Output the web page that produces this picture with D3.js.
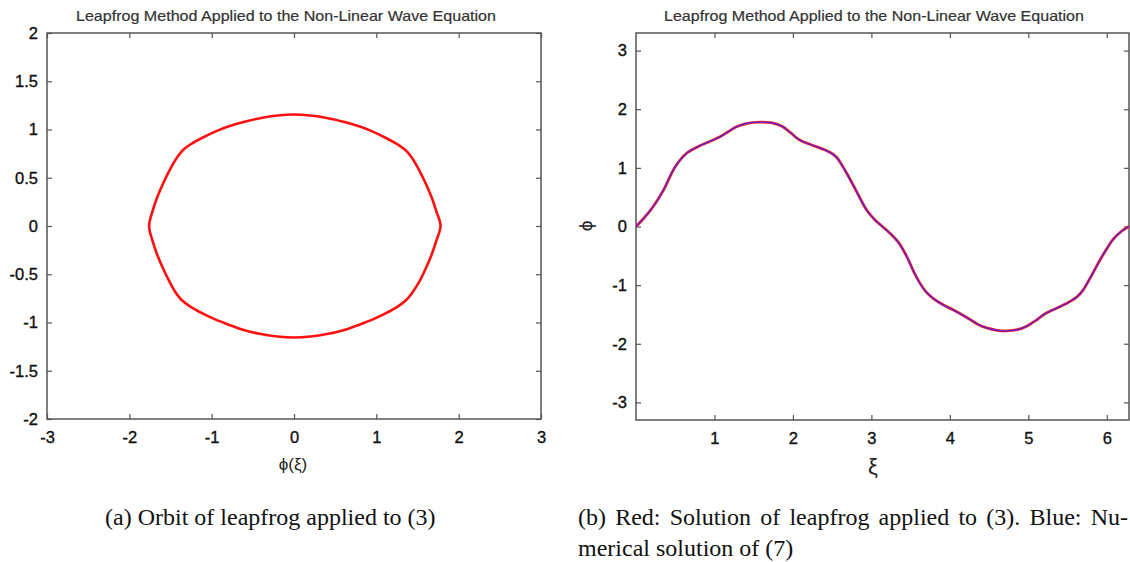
<!DOCTYPE html>
<html>
<head>
<meta charset="utf-8">
<script src="https://cdn.jsdelivr.net/npm/d3@7"></script>
<style>
  html, body { margin: 0; padding: 0; background: #fff; }
  svg { display: block; }
</style>
</head>
<body>
<svg id="chart" width="1130" height="562"></svg>
<script>
// ---------------- DATA ----------------
const titleText = "Leapfrog Method Applied to the Non-Linear Wave Equation";

// Panel (a): orbit (phi, phi')
const orbitX = [-1.76, -1.72, -1.66, -1.59, -1.51, -1.42, -1.345, -1.25, -1.10, -0.95, -0.80, -0.60, -0.40, -0.20, 0.00,
                0.20, 0.40, 0.60, 0.80, 0.95, 1.10, 1.25, 1.35, 1.43, 1.52, 1.60, 1.67, 1.73, 1.78,
                1.73, 1.67, 1.60, 1.52, 1.43, 1.36, 1.25, 1.10, 0.95, 0.80, 0.60, 0.40, 0.20, 0.00,
                -0.20, -0.40, -0.60, -0.80, -0.95, -1.10, -1.25, -1.365, -1.43, -1.51, -1.59, -1.66, -1.72];
const orbitY = [0.00, 0.15, 0.30, 0.44, 0.58, 0.71, 0.79, 0.85, 0.92, 0.98, 1.03, 1.08, 1.12, 1.145, 1.155,
                1.145, 1.12, 1.08, 1.03, 0.98, 0.92, 0.85, 0.79, 0.71, 0.58, 0.44, 0.30, 0.15, 0.00,
                -0.15, -0.30, -0.44, -0.58, -0.70, -0.77, -0.84, -0.91, -0.97, -1.02, -1.08, -1.12, -1.145, -1.155,
                -1.145, -1.12, -1.08, -1.02, -0.97, -0.91, -0.84, -0.767, -0.70, -0.58, -0.44, -0.30, -0.15];

// Panel (b): phi(xi), red = leapfrog, blue = numerical (visually coincident)
const xiValues = [0.00, 0.10, 0.22, 0.35, 0.50, 0.645, 0.80, 0.94, 1.07, 1.18, 1.28, 1.42, 1.58, 1.72, 1.86, 1.97, 2.08, 2.20, 2.34, 2.45,
                  2.55, 2.68, 2.81, 2.94, 3.04, 3.14, 3.24, 3.35, 3.45, 3.55, 3.62, 3.70, 3.79, 3.92, 4.04, 4.15, 4.25, 4.36,
                  4.47, 4.60, 4.72, 4.86, 4.98, 5.10, 5.20, 5.27, 5.40, 5.53, 5.62, 5.70, 5.80, 5.91, 6.00, 6.08, 6.18, 6.283];
const redPhi  = [0.00, 0.14, 0.34, 0.62, 1.02, 1.25, 1.37, 1.45, 1.53, 1.62, 1.70, 1.76, 1.78, 1.77, 1.71, 1.60, 1.48, 1.41, 1.34, 1.28,
                 1.19, 0.92, 0.60, 0.28, 0.12, 0.00, -0.12, -0.28, -0.51, -0.80, -0.97, -1.12, -1.23, -1.34, -1.42, -1.50, -1.58, -1.67,
                 -1.73, -1.77, -1.78, -1.76, -1.70, -1.60, -1.50, -1.45, -1.37, -1.28, -1.20, -1.08, -0.85, -0.58, -0.38, -0.22, -0.09, 0.00];
const bluePhi = [0.00, 0.14, 0.34, 0.62, 1.02, 1.25, 1.37, 1.45, 1.53, 1.62, 1.70, 1.76, 1.78, 1.77, 1.71, 1.60, 1.48, 1.41, 1.34, 1.28,
                 1.19, 0.92, 0.60, 0.28, 0.12, 0.00, -0.12, -0.28, -0.51, -0.80, -0.97, -1.12, -1.23, -1.34, -1.42, -1.50, -1.58, -1.67,
                 -1.73, -1.77, -1.78, -1.76, -1.70, -1.60, -1.50, -1.45, -1.37, -1.28, -1.20, -1.08, -0.85, -0.58, -0.38, -0.22, -0.09, 0.00];

const aXTicks = [-3, -2, -1, 0, 1, 2, 3];
const aYTicks = [-2, -1.5, -1, -0.5, 0, 0.5, 1, 1.5, 2];
const bXTicks = [1, 2, 3, 4, 5, 6];
const bYTicks = [-3, -2, -1, 0, 1, 2, 3];

const captionA = "(a) Orbit of leapfrog applied to (3)";
const captionB1 = "(b) Red: Solution of leapfrog applied to (3). Blue: Nu-";
const captionB2 = "merical solution of (7)";

// ---------------- DRAW ----------------
const svg = d3.select("#chart");
const sans = "'Liberation Sans', Arial, sans-serif";
const serif = "'Liberation Serif', 'Times New Roman', serif";
const fmt = d => String(d);
const frameColor = "#555";

function panel(opts) {
  const g = svg.append("g");
  const x = d3.scaleLinear().domain(opts.xDomain).range([opts.left, opts.right]);
  const y = d3.scaleLinear().domain(opts.yDomain).range([opts.bottom, opts.top]);

  const styleAxis = sel => {
    sel.select(".domain").remove();
    sel.selectAll(".tick line").attr("stroke", frameColor).attr("stroke-width", 1.2);
    sel.selectAll(".tick text").attr("fill", "#111")
      .attr("stroke", "#111").attr("stroke-width", 0.35)
      .style("font-family", sans).style("font-size", "16.5px");
  };

  g.append("g").attr("transform", `translate(0,${opts.bottom})`)
    .call(d3.axisBottom(x).tickValues(opts.xTicks).tickFormat(fmt).tickSizeInner(-5).tickSizeOuter(0).tickPadding(12))
    .call(styleAxis);
  g.append("g").attr("transform", `translate(0,${opts.top})`)
    .call(d3.axisTop(x).tickValues(opts.xTicks).tickFormat("").tickSizeInner(-5).tickSizeOuter(0))
    .call(styleAxis);
  g.append("g").attr("transform", `translate(${opts.left},0)`)
    .call(d3.axisLeft(y).tickValues(opts.yTicks).tickFormat(fmt).tickSizeInner(-5).tickSizeOuter(0).tickPadding(9))
    .call(styleAxis);
  g.append("g").attr("transform", `translate(${opts.right},0)`)
    .call(d3.axisRight(y).tickValues(opts.yTicks).tickFormat("").tickSizeInner(-5).tickSizeOuter(0))
    .call(styleAxis);

  g.append("rect")
    .attr("x", opts.left).attr("y", opts.top)
    .attr("width", opts.right - opts.left).attr("height", opts.bottom - opts.top)
    .attr("fill", "none").attr("stroke", frameColor).attr("stroke-width", 1.5);

  g.append("text")
    .attr("x", opts.titleX).attr("y", 21)
    .attr("text-anchor", "middle")
    .attr("fill", "#333").attr("stroke", "#333").attr("stroke-width", 0.2)
    .style("font-family", sans).style("font-size", "14.5px")
    .attr("textLength", 420).attr("lengthAdjust", "spacingAndGlyphs")
    .text(titleText);

  return { g, x, y };
}

// Panel (a)
const A = panel({ left: 47, right: 541, top: 33, bottom: 419,
  xDomain: [-3, 3], yDomain: [-2, 2], xTicks: aXTicks, yTicks: aYTicks, titleX: 286 });

const orbit = orbitX.map((v, i) => [v, orbitY[i]]);
A.g.append("path")
  .datum(orbit)
  .attr("fill", "none").attr("stroke", "#ff1010").attr("stroke-width", 2.6)
  .attr("stroke-linejoin", "round")
  .attr("d", d3.line().x(d => A.x(d[0])).y(d => A.y(d[1])).curve(d3.curveCatmullRomClosed.alpha(0.5)));

A.g.append("text")
  .attr("x", 293).attr("y", 470).attr("text-anchor", "middle")
  .attr("fill", "#222").style("font-family", sans).style("font-size", "17px")
  .text("ϕ(ξ)");

// Panel (b)
const B = panel({ left: 636, right: 1129, top: 33, bottom: 420,
  xDomain: [0, 2 * Math.PI], yDomain: [-3.3, 3.3], xTicks: bXTicks, yTicks: bYTicks, titleX: 874 });

svg.append("clipPath").attr("id", "clipB").append("rect")
  .attr("x", 636).attr("y", 33).attr("width", 493).attr("height", 387);

const lineB = d3.line().x(d => B.x(d[0])).y(d => B.y(d[1])).curve(d3.curveCatmullRom.alpha(0.5));
B.g.append("path")
  .datum(xiValues.map((v, i) => [v, redPhi[i]]))
  .attr("clip-path", "url(#clipB)")
  .attr("fill", "none").attr("stroke", "#ff2020").attr("stroke-width", 2.8)
  .attr("d", lineB);
B.g.append("path")
  .datum(xiValues.map((v, i) => [v, bluePhi[i]]))
  .attr("clip-path", "url(#clipB)")
  .attr("fill", "none").attr("stroke", "#3020ff").attr("stroke-width", 1.4).attr("stroke-opacity", 0.75)
  .attr("d", lineB);

B.g.append("text")
  .attr("x", 873).attr("y", 474).attr("text-anchor", "middle")
  .attr("fill", "#222").style("font-family", sans).style("font-size", "22px")
  .text("ξ");
B.g.append("text")
  .attr("transform", "translate(592,226) rotate(-90)")
  .attr("text-anchor", "middle")
  .attr("fill", "#222").style("font-family", sans).style("font-size", "19px")
  .text("ϕ");

// Captions
const capSize = 24;
function caption(str, x, y, width) {
  const t = svg.append("text")
    .attr("transform", `translate(${x},${y})`)
    .attr("fill", "#111").style("font-family", serif).style("font-size", capSize + "px");
  const words = str.split(" ");
  const spans = words.map(w => t.append("tspan").text(w));
  const widths = spans.map(s => s.node().getComputedTextLength());
  const gap = width ? (width - d3.sum(widths)) / (words.length - 1) : capSize * 0.25;
  let cx = 0;
  spans.forEach((s, i) => { s.attr("x", cx).attr("y", 0); cx += widths[i] + gap; });
}
caption(captionA, 105, 525);
caption(captionB1, 578, 525, 550);
caption(captionB2, 578, 556);
</script>
</body>
</html>
